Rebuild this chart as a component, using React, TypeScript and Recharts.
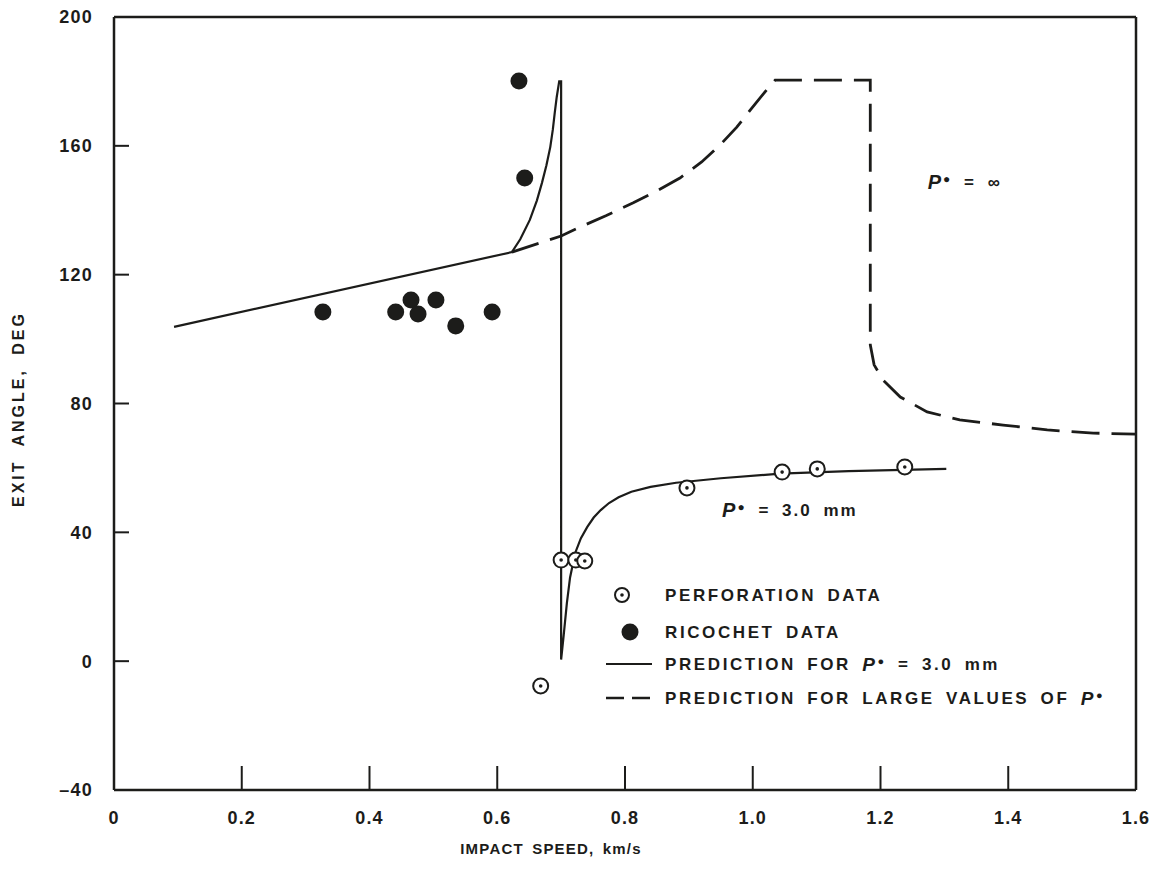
import React from 'react';
import {
  ComposedChart,
  Line,
  Scatter,
  XAxis,
  YAxis,
  ReferenceLine,
  ReferenceDot,
  Legend,
  Label,
} from 'recharts';

const FONT = '"Liberation Sans", Arial, Helvetica, sans-serif';
const INK = '#1c1c1a';

const xTicks = [0, 0.2, 0.4, 0.6, 0.8, 1.0, 1.2, 1.4, 1.6];
const yTicks = [-40, 0, 40, 80, 120, 160, 200];

// ricochet data (filled dots)
const ricochetSpeed = [0.327, 0.441, 0.465, 0.476, 0.504, 0.535, 0.592, 0.634, 0.643];
const ricochetAngle = [108.4, 108.4, 112.1, 107.8, 112.1, 104.1, 108.4, 180.1, 150.0];

// perforation data (open dots)
const perforationSpeed = [0.668, 0.700, 0.723, 0.737, 0.897, 1.046, 1.101, 1.238];
const perforationAngle = [-7.7, 31.4, 31.4, 31.1, 53.8, 58.7, 59.7, 60.3];

// prediction for P* = 3.0 mm (solid)
const solidSpeed = [
  0.094, 0.623, 0.636, 0.651, 0.662, 0.670, 0.677, 0.683, 0.687, 0.690, 0.693, 0.697,
  0.700, 0.700, 0.704, 0.709, 0.714, 0.722, 0.731, 0.741, 0.751, 0.762, 0.775, 0.79,
  0.81, 0.84, 0.88, 0.95, 1.043, 1.15, 1.303,
];
const solidAngle = [
  103.8, 127.0, 131.0, 137.0, 143.0, 148.5, 154.0, 159.6, 165.0, 170.2, 175.0, 180.0,
  180.0, 0.5, 8.0, 18.0, 26.0, 33.6, 38.2, 41.7, 44.6, 46.9, 49.1, 50.9,
  52.6, 54.1, 55.4, 56.8, 58.2, 59.0, 59.7,
];

// prediction for large values of P* (dashed)
const dashedSpeed = [
  0.623, 0.700, 0.730, 0.770, 0.813, 0.850, 0.886, 0.920, 0.949, 0.975, 0.996, 1.016,
  1.035, 1.184, 1.184, 1.190, 1.204, 1.231, 1.273, 1.324, 1.392, 1.461, 1.533, 1.600,
];
const dashedAngle = [
  127.0, 132.0, 134.8, 138.3, 142.3, 146.0, 150.0, 155.0, 160.3, 165.8, 171.1, 176.0,
  180.4, 180.4, 98.2, 92.0, 87.3, 82.0, 77.4, 74.9, 73.3, 71.8, 70.8, 70.5,
];

const zip = (xs: number[], ys: number[]) => xs.map((x, i) => ({ x, y: ys[i] }));

const ricochetData = zip(ricochetSpeed, ricochetAngle);
const perforationData = zip(perforationSpeed, perforationAngle);
const solidData = zip(solidSpeed, solidAngle);
const dashedData = zip(dashedSpeed, dashedAngle);

const RicochetDot = (props: any) => (
  <circle cx={props.cx} cy={props.cy} r={8.5} fill={INK} />
);

const PerforationDot = (props: any) => (
  <g>
    <circle cx={props.cx} cy={props.cy} r={7.5} fill="#fff" stroke={INK} strokeWidth={2} />
    <circle cx={props.cx} cy={props.cy} r={1.8} fill={INK} />
  </g>
);

const PStar = ({ x, y, rest }: { x: number; y: number; rest: string }) => (
  <text
    x={x}
    y={y}
    dominantBaseline="central"
    fontFamily={FONT}
    fontWeight={700}
    fontSize={17}
    fill={INK}
    letterSpacing={2}
    wordSpacing={5}
  >
    <tspan fontStyle="italic" fontSize={20}>P</tspan>
    <tspan fontSize={12} dy={-3}>●</tspan>
    <tspan dy={3}>{rest}</tspan>
  </text>
);

const legendText = {
  fontFamily: FONT,
  fontWeight: 700,
  fontSize: 17,
  fill: INK,
  letterSpacing: 2.6,
  wordSpacing: 4,
};

const renderLegend = () => (
  <svg width={540} height={140}>
    <circle cx={26} cy={17} r={7} fill="#fff" stroke={INK} strokeWidth={2} />
    <circle cx={26} cy={17} r={1.8} fill={INK} />
    <text x={69} y={17} dominantBaseline="central" {...legendText}>PERFORATION DATA</text>

    <circle cx={34} cy={54} r={8.5} fill={INK} />
    <text x={69} y={54} dominantBaseline="central" {...legendText}>RICOCHET DATA</text>

    <line x1={10} x2={56} y1={86} y2={86} stroke={INK} strokeWidth={2} />
    <text x={69} y={86} dominantBaseline="central" {...legendText}>
      PREDICTION FOR <tspan fontStyle="italic" fontSize={19}>P</tspan>
      <tspan fontSize={11} dy={-3}>●</tspan>
      <tspan dy={3}> = 3.0 mm</tspan>
    </text>

    <line x1={10} x2={56} y1={120} y2={120} stroke={INK} strokeWidth={2.5} strokeDasharray="18 8" />
    <text x={69} y={120} dominantBaseline="central" {...legendText}>
      PREDICTION FOR LARGE VALUES OF <tspan fontStyle="italic" fontSize={19}>P</tspan>
      <tspan fontSize={11} dy={-3}>●</tspan>
    </text>
  </svg>
);

const tickStyle = { fontFamily: FONT, fontWeight: 700, fontSize: 18, fill: INK, letterSpacing: 1.2 };

export default function App() {
  return (
    <div style={{ position: 'absolute', left: 0, top: 0, background: '#fff' }}>
      <ComposedChart
        width={1166}
        height={869}
        margin={{ top: 17, right: 30, bottom: 0, left: 0 }}
      >
        <XAxis
          type="number"
          dataKey="x"
          domain={[0, 1.6]}
          ticks={xTicks}
          allowDataOverflow
          height={79}
          tickSize={-24}
          tickMargin={45}
          tick={tickStyle}
          tickFormatter={(v: number) => (v === 0 ? '0' : v.toFixed(1))}
          axisLine={{ stroke: INK, strokeWidth: 2.5 }}
          tickLine={{ stroke: INK, strokeWidth: 2 }}
        >
          <Label
            content={(p: any) => (
              <text
                x={p.viewBox.x + 437}
                y={p.viewBox.y + 58}
                textAnchor="middle"
                dominantBaseline="central"
                fontFamily={FONT}
                fontWeight={700}
                fontSize={15}
                fill={INK}
                letterSpacing={1.2}
                wordSpacing={3}
              >
                IMPACT SPEED, km/s
              </text>
            )}
          />
        </XAxis>
        <YAxis
          type="number"
          dataKey="y"
          domain={[-40, 200]}
          ticks={yTicks}
          allowDataOverflow
          width={114}
          tickSize={-15}
          tickMargin={36}
          tick={tickStyle}
          tickFormatter={(v: number) => (v < 0 ? '–' + Math.abs(v) : String(v))}
          axisLine={{ stroke: INK, strokeWidth: 2.5 }}
          tickLine={{ stroke: INK, strokeWidth: 2 }}
        >
          <Label
            content={(p: any) => {
              const cx = p.viewBox.x + 18;
              const cy = p.viewBox.y + 392;
              return (
                <text
                  x={cx}
                  y={cy}
                  transform={`rotate(-90 ${cx} ${cy})`}
                  textAnchor="middle"
                  dominantBaseline="central"
                  fontFamily={FONT}
                  fontWeight={700}
                  fontSize={16}
                  fill={INK}
                  letterSpacing={3}
                  wordSpacing={6}
                >
                  EXIT ANGLE, DEG
                </text>
              );
            }}
          />
        </YAxis>

        <ReferenceLine y={200} stroke={INK} strokeWidth={2.5} />
        <ReferenceLine x={1.6} stroke={INK} strokeWidth={2.5} />

        <Line
          data={dashedData}
          dataKey="y"
          type="linear"
          stroke={INK}
          strokeWidth={2.8}
          strokeDasharray="28 12"
          dot={false}
          activeDot={false}
          isAnimationActive={false}
          legendType="none"
        />
        <Line
          data={solidData}
          dataKey="y"
          type="linear"
          stroke={INK}
          strokeWidth={2.2}
          dot={false}
          activeDot={false}
          isAnimationActive={false}
          legendType="none"
        />
        <Scatter
          data={ricochetData}
          dataKey="y"
          shape={RicochetDot}
          isAnimationActive={false}
          legendType="none"
        />
        <Scatter
          data={perforationData}
          dataKey="y"
          shape={PerforationDot}
          isAnimationActive={false}
          legendType="none"
        />

        <ReferenceDot
          x={0.952}
          y={47}
          r={0}
          shape={(p: any) => <PStar x={p.cx} y={p.cy} rest=" = 3.0 mm" />}
        />
        <ReferenceDot
          x={1.274}
          y={148.8}
          r={0}
          shape={(p: any) => <PStar x={p.cx} y={p.cy} rest=" = ∞" />}
        />

        <Legend
          layout="vertical"
          align="center"
          verticalAlign="middle"
          wrapperStyle={{ left: 596, top: 578, width: 540, height: 140 }}
          content={renderLegend}
        />
      </ComposedChart>
    </div>
  );
}
